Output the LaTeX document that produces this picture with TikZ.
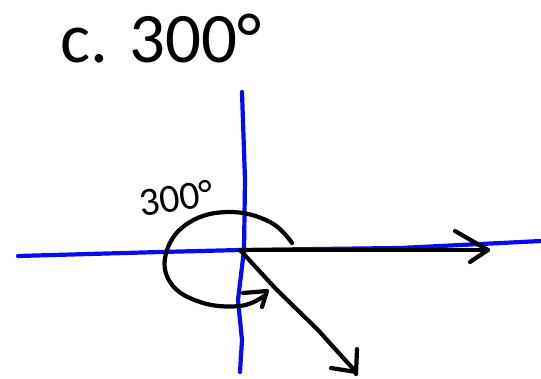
\documentclass[tikz,border=0pt]{standalone}
\usepackage{fontspec}
\setmainfont{Carlito}
\usepackage{tikz}
\definecolor{axisblue}{RGB}{10,10,240}

\begin{document}
\begin{tikzpicture}[x=1pt, y=-1pt,
    axisline/.style={axisblue, line width=4.2pt, line cap=round, line join=round},
    penline/.style={black, line width=4.2pt, line cap=round, line join=round}]
    %% pixel grid of the reference: 541 x 378, y grows downward
    \useasboundingbox (0,0) rectangle (541,378);

    % ---- TITLE ----
    \node[anchor=base west, inner sep=0pt, font=\fontsize{71}{85}\selectfont] (title)
      at (60,62) {c. 300°};

    % ---- AXES ----
    \coordinate (O) at (240,250);
    \coordinate (xl) at (18,256);
    \coordinate (xr) at (541,241);
    \coordinate (yt) at (242,92);
    \coordinate (yb) at (240,372);
    \draw[axisline] (xl) -- (160,252) -- (O) -- (400,248) -- (xr);
    \draw[axisline] (yt) -- (245,180) -- (244,250) -- (238,300) -- (242,340) -- (yb);

    % ---- INITIAL SIDE ----
    \coordinate (ie) at (488,250);
    \draw[penline] (O) -- (ie);
    \draw[penline] (455,231) -- (ie) -- (470,262);

    % ---- TERMINAL SIDE ----
    \coordinate (te) at (356,372);
    \draw[penline] (O) -- (275,288) -- (318,330) -- (te);
    \draw[penline] (357,349) -- (356,374);
    \draw[penline] (331,368) -- (te);

    % ---- ROTATION ARC ----
    \coordinate (as) at (292,243);
    \coordinate (ae) at (264,296);
    \draw[penline] plot[smooth, tension=0.7] coordinates
      {(as) (270,222) (230,212) (190,222) (167,250) (170,282) (200,302) (240,306) (ae)};
    \draw[penline] (243,293) -- (267,291) -- (262,307);

    % ---- ANGLE LABEL ----
    \node[font=\fontsize{40}{48}\selectfont, rotate=8] (lbl) at (176,198) {300°};

\end{tikzpicture}
\end{document}
